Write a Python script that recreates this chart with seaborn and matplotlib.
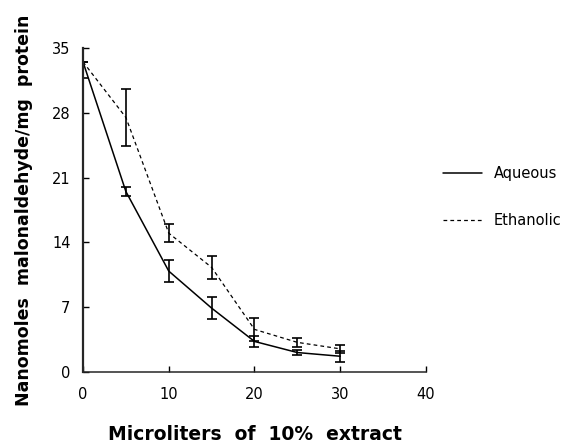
import pandas as pd
import seaborn as sns
import matplotlib.pyplot as plt

# Values
microliters = [0, 5, 10, 15, 20, 25, 30]
aqueous = [33.5, 19.5, 10.9, 6.9, 3.3, 2.1, 1.7]
aqueous_err = [0.0, 0.45, 1.2, 1.15, 0.55, 0.3, 0.6]
ethanolic = [33.5, 27.5, 15.0, 11.3, 4.6, 3.2, 2.5]
ethanolic_err = [1.7, 3.1, 1.0, 1.25, 1.2, 0.45, 0.4]
y_ticks = [0, 7, 14, 21, 28, 35]
x_ticks = [0, 10, 20, 30, 40]

df = pd.DataFrame({
    "ul": microliters * 2,
    "mda": aqueous + ethanolic,
    "extract": ["Aqueous"] * len(microliters) + ["Ethanolic"] * len(microliters),
})

sns.set_style("ticks")
plt.rcParams["font.family"] = ["DejaVu Sans"]

fig = plt.figure(figsize=(5.67, 4.43), dpi=100)
ax = fig.add_axes([0.1464, 0.1603, 0.6049, 0.7313])

sns.lineplot(
    data=df, x="ul", y="mda", style="extract",
    dashes={"Aqueous": "", "Ethanolic": (3, 2.5)},
    color="black", linewidth=1.1, ax=ax, legend=False,
)
ax.lines[1].set_linewidth(0.9)

# Error bars
ax.errorbar(microliters, aqueous, yerr=aqueous_err, fmt="none",
            ecolor="black", elinewidth=1.2, capsize=3.5, capthick=1.2)
ax.errorbar(microliters, ethanolic, yerr=ethanolic_err, fmt="none",
            ecolor="black", elinewidth=1.2, capsize=3.5, capthick=1.2)

ax.set_xlim(0, 40)
ax.set_ylim(0, 35)
ax.set_xticks(x_ticks)
ax.set_yticks(y_ticks)
ax.tick_params(axis="both", direction="in", length=4, width=1, labelsize=10.5,
               colors="black")
ax.tick_params(axis="x", pad=11)
ax.tick_params(axis="y", pad=9)

sns.despine(ax=ax)
ax.spines["left"].set_linewidth(1.6)
ax.spines["bottom"].set_linewidth(1.1)

ax.set_xlabel("Microliters  of  10%  extract", fontsize=13.5,
              fontweight="bold", color="black")
ax.set_ylabel("Nanomoles  malonaldehyde/mg  protein", fontsize=12.5,
              fontweight="bold", color="black")
ax.xaxis.set_label_coords(0.50, -0.165)
ax.yaxis.set_label_coords(-0.146, 0.50)

# Legend outside on the right
handles = [
    plt.Line2D([], [], color="black", linewidth=1.1),
    plt.Line2D([], [], color="black", linewidth=0.9, dashes=(3, 2.5)),
]
ax.legend(handles, ["Aqueous", "Ethanolic"], loc="center left",
          bbox_to_anchor=(1.01, 0.54), frameon=False, fontsize=10.5,
          handlelength=2.7, handletextpad=0.8, labelspacing=2.2,
          labelcolor="black")

plt.savefig("out.png", dpi=100)
